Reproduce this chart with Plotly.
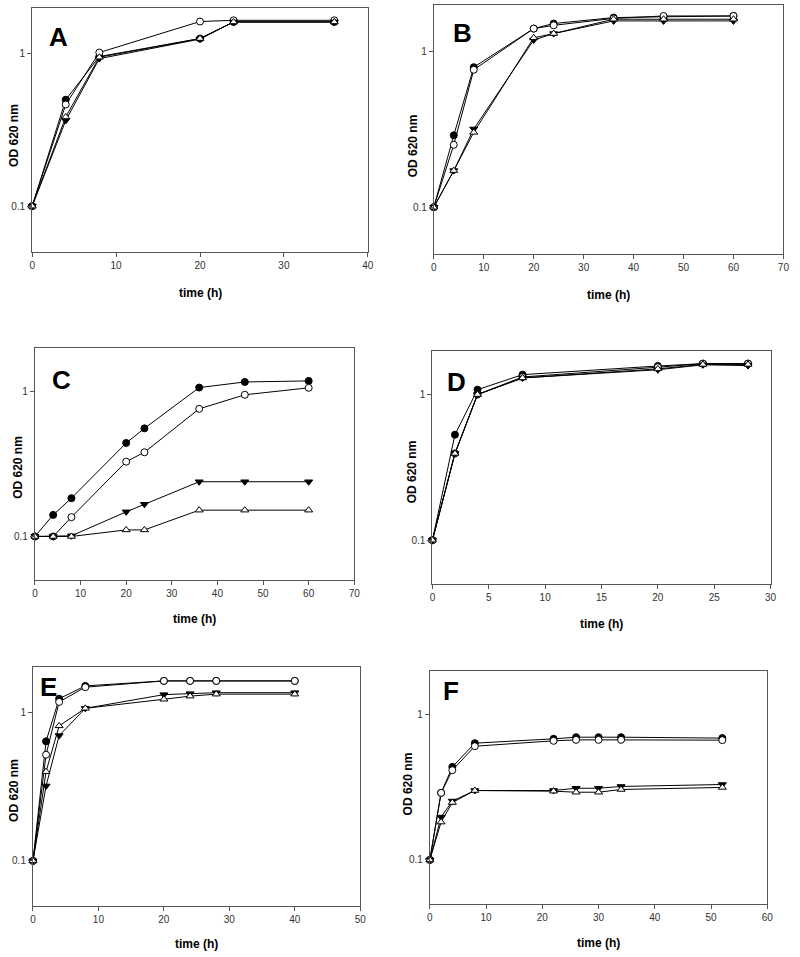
import plotly.graph_objects as go
import math

W, H = 800, 957

# ---------------- data ----------------
tA = [0, 4, 8, 20, 24, 36]
A_fc = [0.1, 0.50, 0.96, 1.26, 1.62, 1.62]
A_oc = [0.1, 0.465, 1.02, 1.63, 1.66, 1.66]
A_ft = [0.1, 0.365, 0.93, 1.25, 1.62, 1.62]
A_ot = [0.1, 0.385, 0.95, 1.26, 1.62, 1.62]

tB = [0, 4, 8, 20, 24, 36, 46, 60]
B_fc = [0.1, 0.29, 0.796, 1.41, 1.52, 1.66, 1.68, 1.70]
B_oc = [0.1, 0.252, 0.766, 1.41, 1.48, 1.64, 1.70, 1.70]
B_ft = [0.1, 0.172, 0.319, 1.19, 1.31, 1.58, 1.58, 1.58]
B_ot = [0.1, 0.172, 0.303, 1.23, 1.31, 1.62, 1.62, 1.62]

tC = [0, 4, 8, 20, 24, 36, 46, 60]
C_fc = [0.1, 0.141, 0.184, 0.443, 0.559, 1.07, 1.17, 1.19]
C_oc = [0.1, 0.1, 0.136, 0.329, 0.382, 0.763, 0.954, 1.066]
C_ft = [0.1, 0.1, 0.101, 0.148, 0.167, 0.239, 0.239, 0.239]
C_ot = [0.1, 0.1, 0.1, 0.111, 0.111, 0.152, 0.152, 0.152]

tD = [0, 2, 4, 8, 20, 24, 28]
D_fc = [0.1, 0.53, 1.08, 1.37, 1.57, 1.63, 1.63]
D_oc = [0.1, 0.394, 1.0, 1.32, 1.54, 1.63, 1.63]
D_ft = [0.1, 0.394, 1.0, 1.30, 1.48, 1.60, 1.58]
D_ot = [0.1, 0.394, 1.0, 1.30, 1.50, 1.61, 1.61]

tE = [0, 2, 4, 8, 20, 24, 28, 40]
E_fc = [0.1, 0.636, 1.23, 1.50, 1.62, 1.62, 1.62, 1.62]
E_oc = [0.1, 0.517, 1.17, 1.47, 1.62, 1.62, 1.62, 1.62]
E_ft = [0.1, 0.319, 0.695, 1.06, 1.31, 1.33, 1.35, 1.35]
E_ot = [0.1, 0.398, 0.808, 1.06, 1.22, 1.28, 1.32, 1.32]

tF = [0, 2, 4, 8, 22, 26, 30, 34, 52]
F_fc = [0.1, 0.289, 0.436, 0.635, 0.68, 0.698, 0.698, 0.698, 0.688]
F_oc = [0.1, 0.289, 0.414, 0.605, 0.659, 0.669, 0.669, 0.669, 0.666]
F_ft = [0.1, 0.197, 0.254, 0.30, 0.30, 0.311, 0.311, 0.32, 0.33]
F_ot = [0.1, 0.182, 0.248, 0.30, 0.297, 0.292, 0.292, 0.305, 0.315]

panel_letters = ["A", "B", "C", "D", "E", "F"]
x_maxes = [40, 70, 70, 30, 50, 60]
x_dticks = [10, 10, 10, 5, 10, 10]
y_tickvals = [0.1, 1]
y_ticktext = ["0.1", "1"]
x_title = "time (h)"
y_title = "OD 620 nm"

panels = [
    (tA, A_fc, A_oc, A_ft, A_ot),
    (tB, B_fc, B_oc, B_ft, B_ot),
    (tC, C_fc, C_oc, C_ft, C_ot),
    (tD, D_fc, D_oc, D_ft, D_ot),
    (tE, E_fc, E_oc, E_ft, E_ot),
    (tF, F_fc, F_oc, F_ft, F_ot),
]

# ---------------- layout geometry (pixels) ----------------
# (left, right, top, bottom) of each plot box
boxes = [
    (29.5, 369.0, 8.0, 252.0),
    (435.7, 789.3, 5.0, 254.0),
    (32.3, 355.3, 348.3, 580.0),
    (434.3, 776.3, 350.7, 584.0),
    (30.3, 361.3, 667.3, 905.7),
    (431.7, 773.0, 670.7, 903.7),
]
letter_pos = [(45, 37), (453, 33), (48, 380), (447, 382), (35, 687), (443, 691)]
ytitle_pos = [(11, 135), (415, 146), (15, 467), (414, 472), (11, 790), (410, 784)]
xtitle_y = [293, 295, 619, 624, 944, 943]


def px(x):
    return x / W


def py(y):
    return 1 - y / H


fig = go.Figure()

styles = [
    dict(symbol="circle", color="black", line=dict(color="black", width=1), size=7),
    dict(symbol="circle", color="white", line=dict(color="black", width=1), size=7),
    dict(symbol="triangle-down", color="black", line=dict(color="black", width=1), size=7),
    dict(symbol="triangle-up", color="white", line=dict(color="black", width=1), size=7),
]

annotations = []
for i, (t, fc, oc, ft, ot) in enumerate(panels):
    n = "" if i == 0 else str(i + 1)
    for ser, st in zip([fc, oc, ft, ot], styles):
        fig.add_trace(go.Scatter(
            x=t, y=ser, mode="lines+markers",
            line=dict(color="black", width=1),
            marker=st, showlegend=False,
            xaxis="x" + n, yaxis="y" + n, cliponaxis=False,
        ))
    l, r, tp, b = boxes[i]
    axis_common = dict(
        showline=True, linecolor="#555", linewidth=1, mirror=True,
        showgrid=False, zeroline=False, ticks="outside", ticklen=4,
        tickcolor="#555", tickfont=dict(family="Liberation Sans, Arial", size=10, color="#333"),
    )
    fig.layout["xaxis" + n] = dict(
        domain=[px(l), px(r)], anchor="y" + n, range=[0, x_maxes[i]],
        dtick=x_dticks[i], tick0=0, **axis_common,
    )
    fig.layout["yaxis" + n] = dict(
        domain=[py(b), py(tp)], anchor="x" + n, type="log",
        range=[math.log10(0.05), math.log10(2.0)],
        tickvals=y_tickvals, ticktext=y_ticktext, **axis_common,
    )
    lx, ly = letter_pos[i]
    annotations.append(dict(
        x=px(lx), y=py(ly), xref="paper", yref="paper", text="<b>%s</b>" % panel_letters[i],
        showarrow=False, xanchor="left", yanchor="middle",
        font=dict(family="Liberation Sans, Arial", size=26, color="black"),
    ))
    annotations.append(dict(
        x=px((l + r) / 2), y=py(xtitle_y[i]), xref="paper", yref="paper",
        text="<b>%s</b>" % x_title, showarrow=False, xanchor="center", yanchor="middle",
        font=dict(family="Liberation Sans, Arial", size=12, color="black"),
    ))
    tx, ty = ytitle_pos[i]
    annotations.append(dict(
        x=px(tx), y=py(ty), xref="paper", yref="paper",
        text="<b>%s</b>" % y_title, showarrow=False, xanchor="center", yanchor="middle",
        textangle=-90,
        font=dict(family="Liberation Sans, Arial", size=12, color="black"),
    ))

fig.update_layout(
    width=W, height=H, margin=dict(l=0, r=0, t=0, b=0),
    paper_bgcolor="white", plot_bgcolor="white",
    annotations=annotations, showlegend=False,
)

fig.write_html(
    "out.html",
    config={"displayModeBar": False},
    post_script="document.body.style.margin='0';document.body.style.overflow='hidden';",
)
